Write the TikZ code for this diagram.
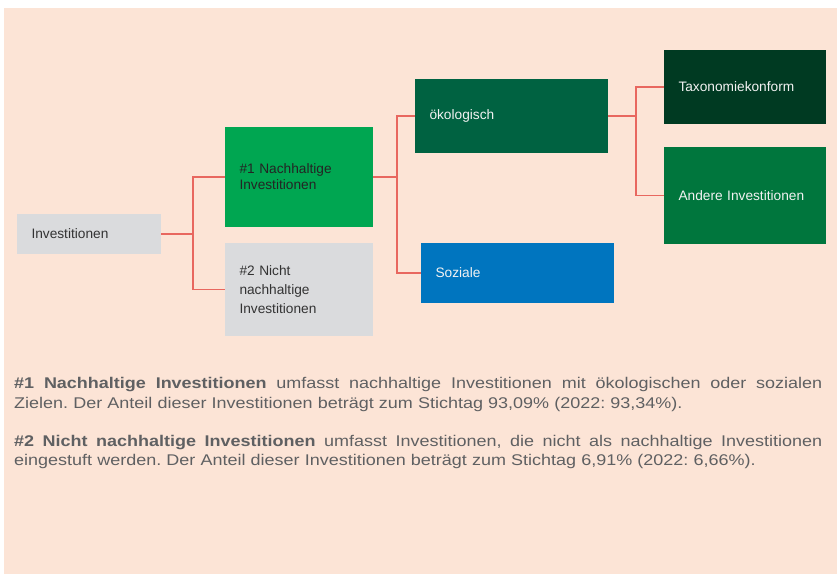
\documentclass[tikz,border=0pt]{standalone}
\usepackage{fontspec}
\setmainfont{Liberation Sans}
\newfontfamily\bodyfont{Liberation Sans}[FakeStretch=1.16]
\usepackage{tikz}
\frenchspacing

\definecolor{peach}{HTML}{FCE4D6}
\definecolor{boxgrey}{HTML}{DADBDD}
\definecolor{linkred}{HTML}{E8675F}
\definecolor{greenA}{HTML}{00A651}
\definecolor{greenB}{HTML}{006241}
\definecolor{greenC}{HTML}{003A22}
\definecolor{greenD}{HTML}{00763D}
\definecolor{blueS}{HTML}{0075BF}
\definecolor{bodygrey}{HTML}{5F6062}
\definecolor{labeldark}{HTML}{333333}
\definecolor{labellight}{HTML}{F2F2F2}

% first line of a paragraph, spread over the full width
\newcommand{\fullline}[1]{\makebox[808pt][s]{\spaceskip=0.28em plus 1fil\relax #1}}

\begin{document}
\begin{tikzpicture}[x=1pt,y=-1pt,
  box/.style={rectangle,inner xsep=14.5pt,inner ysep=0pt,align=left,
    font=\fontsize{13.7}{16}\selectfont},
  link/.style={draw=linkred,line width=1.6pt},
  para/.style={anchor=base west,inner sep=0pt,text width=808pt,align=left,
    text=bodygrey,font=\bodyfont\fontsize{15.5}{19.8}\selectfont}]
\useasboundingbox (0,0) rectangle (837,575);
\fill[peach] (4,8) rectangle (837,574);

\node[box,fill=boxgrey,text=labeldark,text width=115pt,minimum height=39.7pt] (inv) at (89,233.8) {Investitionen};
\node[box,fill=greenA,text=labeldark!70!black,text width=119pt,minimum height=100pt] (nach) at (299,177) {\#1 Nachhaltige\\Investitionen};
\node[box,fill=boxgrey,text=labeldark,text width=119pt,minimum height=93pt,font=\fontsize{13.7}{18.7}\selectfont] (nicht) at (299,289.5) {\#2 Nicht\\nachhaltige\\Investitionen};
\node[box,fill=greenB,text=labellight,text width=164pt,minimum height=74pt] (oeko) at (511.5,116) {ökologisch};
\node[box,fill=blueS,text=labellight,text width=164pt,minimum height=60pt] (soz) at (517.5,273) {Soziale};
\node[box,fill=greenC,text=labellight,text width=133pt,minimum height=74pt] (tax) at (745,87) {Taxonomiekonform};
\node[box,fill=greenD,text=labellight,text width=133pt,minimum height=97pt] (andere) at (745,195.5) {Andere Investitionen};

\draw[link] (inv.east) -- ++(32,0) |- (nach.west);
\draw[link] (inv.east) -- ++(32,0) |- (nicht.west);
\draw[link] (nach.east) -- ++(24,0) |- (oeko.west);
\draw[link] (nach.east) -- ++(24,0) |- (soz.west);
\draw[link] (oeko.east) -- ++(28,0) |- (tax.west);
\draw[link] (oeko.east) -- ++(28,0) |- (andere.west);

\node[para] (par1) at (14,388.5) {\fullline{\textbf{\#1 Nachhaltige Investitionen} umfasst nachhaltige Investitionen mit ökologischen oder sozialen}\\Zielen. Der Anteil dieser Investitionen beträgt zum Stichtag 93,09\% (2022: 93,34\%).};
\node[para] (par2) at (14,446) {\fullline{\textbf{\#2 Nicht nachhaltige Investitionen} umfasst Investitionen, die nicht als nachhaltige Investitionen}\\eingestuft werden. Der Anteil dieser Investitionen beträgt zum Stichtag 6,91\% (2022: 6,66\%).};
\end{tikzpicture}
\end{document}
